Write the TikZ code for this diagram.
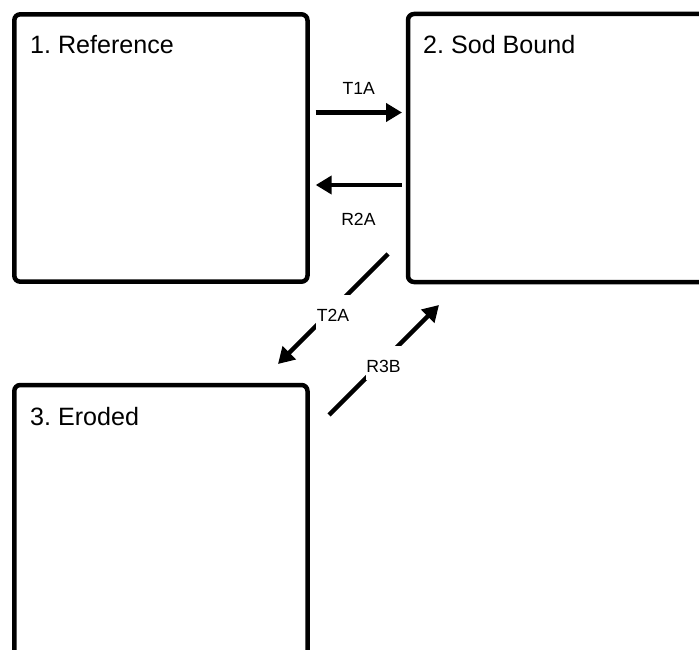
\documentclass[tikz,border=0pt]{standalone}
\usepackage{fontspec}
\setmainfont{Liberation Sans}
\usetikzlibrary{arrows.meta}
\frenchspacing
\begin{document}
\begin{tikzpicture}[x=1pt,y=-1pt,
  state/.style={draw, line width=4.5pt, rounded corners=6pt, inner sep=0pt},
  title/.style={anchor=base west, inner sep=0pt, font=\fontsize{25.1}{30}\selectfont},
  conn/.style={line width=4.5pt, -{Triangle[length=16pt,width=18pt]}},
  lab/.style={font=\fontsize{17.6}{21}\selectfont, inner sep=0pt},
  cutlab/.style={lab, fill=white, minimum width=34pt, minimum height=34pt, text height=19pt}]
\useasboundingbox (0,0) rectangle (699,650);
\clip (0,0) rectangle (699,650);
% boxes
\node[state, minimum width=293.2pt, minimum height=267.4pt] (b1) at (160.9,148) {};
\node[state, minimum width=352pt, minimum height=268pt] (b2) at (584,148) {};
\node[state, minimum width=293.2pt, minimum height=335pt] (b3) at (160.9,552.5) {};
% titles
\node[title] (t1) at (30,54) {1. Reference};
\node[title] (t2) at (423,53.5) {2. Sod Bound};
\node[title] (t3) at (30,425) {3. Eroded};
% connector end points
\coordinate (a1s) at (315.7,112.5);
\coordinate (a1e) at (402,112.5);
\coordinate (a2s) at (401.7,185);
\coordinate (a2e) at (315.7,185);
\coordinate (d1s) at (388,254);
\coordinate (d1e) at (278,364);
\coordinate (d2s) at (329,415);
\coordinate (d2e) at (439,305);
% connectors
\draw[conn] (a1s) -- (a1e);
\node[lab, anchor=base] (lt1a) at (358.8,94.3) {T1A};
\draw[conn] (a2s) -- (a2e);
\node[lab, anchor=base] (lr2a) at (358.4,225.7) {R2A};
\draw[conn] (d1s) -- (d1e);
\node[cutlab] (lt2a) at (333,311.5) {T2A};
\draw[conn] (d2s) -- (d2e);
\node[cutlab] (lr3b) at (383.5,363) {R3B};
\end{tikzpicture}
\end{document}
